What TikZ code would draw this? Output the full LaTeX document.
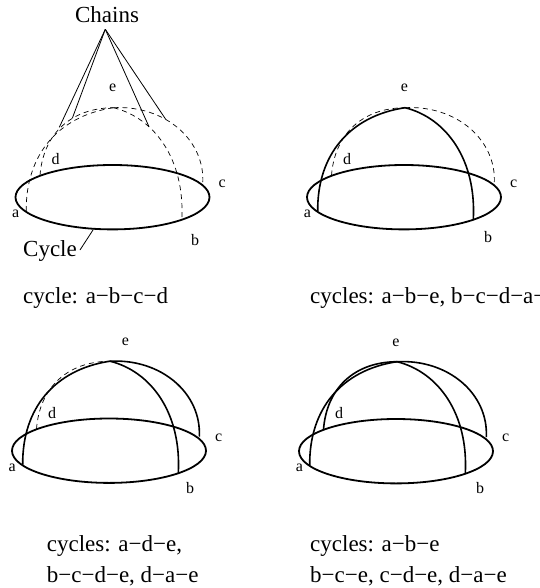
\documentclass[tikz,border=0pt]{standalone}
\usepackage{fontspec}
\setmainfont{Liberation Serif}
\usetikzlibrary{shapes.geometric}
\tikzset{
  x=1pt,y=-1pt,
  rim/.style={draw=black,line width=1.8pt},
  chain/.style={draw=black,line width=1.6pt},
  hidden/.style={draw=black,line width=0.7pt,dash pattern=on 5pt off 4pt},
  pointer/.style={draw=black,line width=0.8pt},
  vlabel/.style={inner sep=0pt,font=\fontsize{16}{18}\selectfont},
  biglabel/.style={inner sep=0pt,font=\fontsize{23}{26}\selectfont},
  caption/.style={inner sep=0pt,anchor=base west,font=\fontsize{23}{26}\selectfont}
}
% #1 prefix, #2 shift, #3 e label position, #4 b label position
\newcommand{\domeframe}[4]{%
  \begin{scope}[shift={#2}]
    \node[rim,ellipse,minimum width=194pt,minimum height=64.4pt,inner sep=0pt] (#1rim) at (112.5,197.2) {};
    \coordinate (#1a) at (26.2,211);
    \coordinate (#1b) at (181.8,219.5);
    \coordinate (#1c) at (202.8,183);
    \coordinate (#1d) at (40,175.5);
    \coordinate (#1e) at (113.5,107.7);
    \node[vlabel] (#1la) at (15.8,214) {a};
    \node[vlabel] (#1lb) at #4 {b};
    \node[vlabel] (#1lc) at (222.2,184) {c};
    \node[vlabel] (#1ld) at (55.5,159.3) {d};
    \node[vlabel] (#1le) at #3 {e};
  \end{scope}}
% arcs: #1 prefix, #2 style
\newcommand{\arcae}[2]{\path[#2] (#1a) .. controls +(-0.5,-56) and +(-55.5,8.3) .. (#1e);}
\newcommand{\arcbe}[2]{\path[#2] (#1e) .. controls +(41.5,10.3) and +(3.2,-59.5) .. (#1b);}
\newcommand{\arcce}[2]{\path[#2] (#1e) .. controls +(51.5,-2.7) and +(2.2,-43) .. (#1c);}
\newcommand{\arcde}[2]{\path[#2] (#1d) .. controls +(3,-40.5) and +(-43.5,0.3) .. (#1e);}
\begin{document}
\begin{tikzpicture}
\clip (0,0) rectangle (539,588);
% panel 1
\domeframe{p}{(0,0)}{(112.7,88)}{(195,240)}
\arcae{p}{hidden}\arcbe{p}{hidden}\arcce{p}{hidden}\arcde{p}{hidden}
\node[biglabel] (chains) at (107,15) {Chains};
\coordinate (apex) at (105.3,29.3);
\coordinate (c1) at (59.3,127.3);
\coordinate (c2) at (72.3,118.3);
\coordinate (c3) at (149,126.7);
\coordinate (c4) at (165.7,119.3);
\draw[pointer] (apex) -- (c1);
\draw[pointer] (apex) -- (c2);
\draw[pointer] (apex) -- (c3);
\draw[pointer] (apex) -- (c4);
\node[biglabel] (cycle) at (50,251) {Cycle};
\coordinate (cyc1) at (80,250);
\coordinate (cyc2) at (93.3,229.5);
\draw[pointer] (cyc1) -- (cyc2);
\node[caption] (cap1) at (23,303) {cycle: a−b−c−d};
% panel 2
\domeframe{q}{(291.5,0)}{(112.8,88.3)}{(196.5,236.7)}
\arcae{q}{chain}\arcbe{q}{chain}\arcce{q}{hidden}\arcde{q}{hidden}
\node[caption] (cap2) at (310,303) {cycles: a−b−e, b−c−d−a−e};
% panel 3
\domeframe{r}{(-3.5,253.5)}{(129,88)}{(193.5,234.8)}
\arcae{r}{chain}\arcbe{r}{chain}\arcce{r}{chain}\arcde{r}{hidden}
\node[caption] (cap3) at (46.7,551.7) {cycles: a−d−e,};
\node[caption] (cap4) at (46.7,582.7) {b−c−d−e, d−a−e};
% panel 4
\domeframe{s}{(283.5,254)}{(112.5,88.7)}{(196.5,234.3)}
\arcae{s}{chain}\arcbe{s}{chain}\arcce{s}{chain}\arcde{s}{chain}
\node[caption] (cap5) at (310,551.7) {cycles: a−b−e};
\node[caption] (cap6) at (310,582.7) {b−c−e, c−d−e, d−a−e};
\end{tikzpicture}
\end{document}
